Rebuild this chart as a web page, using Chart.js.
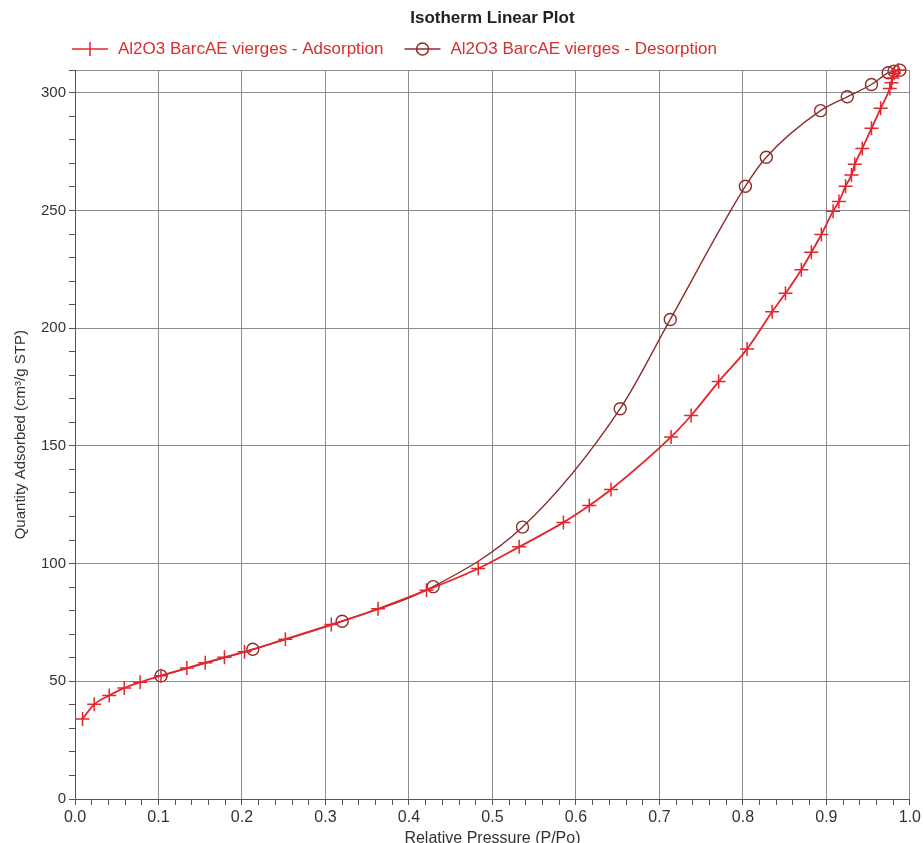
<!DOCTYPE html>
<html>
<head>
<meta charset="utf-8">
<script src="https://cdn.jsdelivr.net/npm/chart.js@4/dist/chart.umd.min.js"></script>
<style>
html,body{margin:0;padding:0;background:#fff;}
#wrap{width:924px;height:843px;}
</style>
</head>
<body>
<div id="wrap"><canvas id="isoChart"></canvas></div>
<script>
// 흡착 (adsorption) P/Po, quantity
var adsP=[0.009,0.023,0.041,0.059,0.078,0.103,0.134,0.156,0.179,0.203,0.252,0.307,0.363,0.421,0.483,0.532,0.585,0.616,0.642,0.714,0.738,0.771,0.805,0.835,0.851,0.870,0.882,0.894,0.908,0.915,0.923,0.930,0.934,0.943,0.954,0.965,0.976,0.978,0.979,0.981,0.986];
var adsQ=[34.0,40.2,44.0,47.2,49.6,52.4,55.6,57.9,60.2,62.5,67.9,74.1,80.8,88.7,97.9,107.1,117.5,124.7,131.5,153.8,162.9,177.3,191.2,207.0,214.8,224.8,232.2,239.8,249.7,253.8,260.3,265.1,269.6,276.3,284.9,293.4,301.8,304.3,306.3,308.3,309.7];
// 탈착 (desorption)
var desP=[0.103,0.213,0.320,0.429,0.536,0.653,0.713,0.803,0.828,0.893,0.925,0.954,0.974,0.981,0.988];
var desQ=[52.3,63.6,75.5,90.2,115.5,165.8,203.7,260.3,272.6,292.4,298.3,303.5,308.5,309.2,309.6];

var seriesNames=['Al2O3 BarcAE vierges - Adsorption','Al2O3 BarcAE vierges - Desorption'];
var chartTitle='Isotherm Linear Plot';
var xTitle='Relative Pressure (P/Po)';
var yTitle='Quantity Adsorbed (cm\u00b3/g STP)';

var adsColor='#e5252d';
var desColor='#8e2b2b';
var gridColor='#8c8c8c';
var fontFam='"Liberation Sans", Arial, sans-serif';

function fnPoints(xs,ys){
	var out=[];
	for(var i=0;i<xs.length;i++){
		out.push({x:xs[i],y:ys[i]});
	}
	return out;
}

//범례 직접 그리기
var legendPlugin={
	id:'isoLegend',
	afterDraw:function(chart){
		var ctx=chart.ctx;
		var items=[
			{text:seriesNames[0],color:adsColor,style:'cross'},
			{text:seriesNames[1],color:desColor,style:'circle'}
		];
		var x=72, y=49;
		ctx.save();
		ctx.font='17px '+fontFam;
		ctx.textBaseline='middle';
		for(var i=0;i<items.length;i++){
			var it=items[i];
			ctx.strokeStyle=it.color;
			ctx.lineWidth=1.5;
			ctx.beginPath();
			ctx.moveTo(x,y);ctx.lineTo(x+36,y);
			ctx.stroke();
			ctx.beginPath();
			if(it.style=='cross'){
				ctx.moveTo(x+18,y-7);ctx.lineTo(x+18,y+7);
			}else{
				ctx.arc(x+18,y,6,0,Math.PI*2);
			}
			ctx.stroke();
			ctx.fillStyle='#d6302f';
			ctx.fillText(it.text,x+46,y);
			x+=46+ctx.measureText(it.text).width+21;
		}
		ctx.restore();
	}
};

var ctx=document.getElementById('isoChart').getContext('2d');
var isoChart=new Chart(ctx,{
	type:'scatter',
	data:{
		datasets:[{
			label:seriesNames[0],
			data:fnPoints(adsP,adsQ),
			showLine:true,
			clip:false,
			order:0,
			borderColor:adsColor,
			borderWidth:1.8,
			cubicInterpolationMode:'monotone',
			pointStyle:'cross',
			pointRadius:7,
			pointBorderWidth:1.5,
			pointBorderColor:adsColor,
			pointBackgroundColor:adsColor
		},{
			label:seriesNames[1],
			data:fnPoints(desP,desQ),
			showLine:true,
			clip:false,
			order:1,
			borderColor:desColor,
			borderWidth:1.4,
			cubicInterpolationMode:'monotone',
			pointStyle:'circle',
			pointRadius:6,
			pointBorderWidth:1.4,
			pointBorderColor:desColor,
			pointBackgroundColor:'rgba(0,0,0,0)'
		}]
	},
	options:{
		responsive:true,
		maintainAspectRatio:false,
		animation:false,
		layout:{padding:{left:0,right:8,top:0,bottom:0}},
		plugins:{
			legend:{display:false},
			tooltip:{enabled:false},
			title:{
				display:true,
				text:chartTitle,
				fullSize:false,
				color:'#222',
				font:{family:fontFam,size:17,weight:'bold'},
				padding:{top:8,bottom:42}
			}
		},
		scales:{
			x:{
				type:'linear',
				min:0,max:1,
				afterFit:function(s){s.height=44;},
				border:{color:'#555',width:1},
				grid:{
					color:function(c){
						var k=Math.round(c.tick.value*50);
						return k%5===0 ? gridColor : 'rgba(0,0,0,0)';
					},
					tickColor:'#555',
					tickLength:6,
					lineWidth:1
				},
				ticks:{
					stepSize:0.02,
					autoSkip:false,
					maxRotation:0,
					padding:3,
					color:'#333',
					font:{family:fontFam,size:16},
					callback:function(v){
						var k=Math.round(v*50);
						return k%5===0 ? (k/50).toFixed(1) : '';
					}
				},
				title:{
					display:true,
					text:xTitle,
					color:'#333',
					font:{family:fontFam,size:16},
					padding:{top:0,bottom:-5}
				}
			},
			y:{
				type:'linear',
				min:0,max:309.5,
				afterFit:function(s){s.width=75;},
				border:{color:'#555',width:1},
				grid:{
					color:function(c){
						var v=c.tick.value;
						return (Math.abs(v%50)<0.01 || v>309) ? gridColor : 'rgba(0,0,0,0)';
					},
					tickColor:'#555',
					tickLength:6,
					lineWidth:1
				},
				ticks:{
					stepSize:10,
					autoSkip:false,
					padding:3,
					color:'#333',
					font:{family:fontFam,size:15},
					callback:function(v){
						return Math.abs(v%50)<0.01 ? v : '';
					}
				},
				title:{
					display:true,
					text:yTitle,
					color:'#333',
					font:{family:fontFam,size:15},
					padding:{top:12,bottom:0}
				}
			}
		}
	},
	plugins:[legendPlugin]
});
</script>
</body>
</html>
